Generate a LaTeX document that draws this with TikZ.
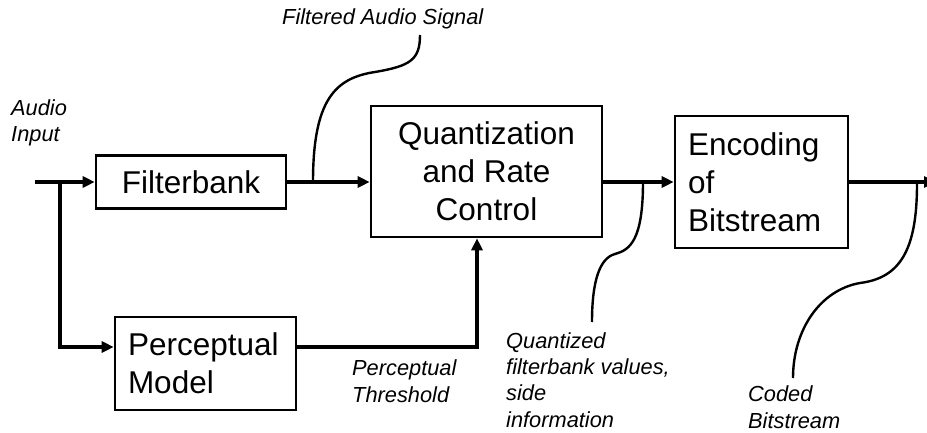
\documentclass[tikz,border=0pt]{standalone}
\usepackage{fontspec}
\setmainfont{Liberation Sans}
\usetikzlibrary{arrows.meta}
\begin{document}
\begin{tikzpicture}[x=1pt,y=-1pt,
  box/.style={draw, line width=2.6pt, inner sep=0pt, font=\fontsize{31.5}{38}\selectfont},
  lbl/.style={font=\fontsize{21.8}{26.3}\selectfont\itshape, align=left, inner sep=0pt, anchor=base west},
  flow/.style={line width=3.6pt, -{Triangle[length=12pt,width=11pt]}},
  lead/.style={line width=2.4pt}]
\useasboundingbox (0,0) rectangle (927,433);
% blocks
\node[box, minimum width=190pt, minimum height=53pt] (fb) at (191,182) {Filterbank};
\node[box, minimum width=231pt, minimum height=131pt, align=center] (qr) at (486.5,171.5) {Quantization\\and Rate\\Control};
\node[box, minimum width=173pt, minimum height=132pt, text width=147pt, align=left] (enc) at (761.5,182) {Encoding\\of\\Bitstream};
\node[box, minimum width=181pt, minimum height=93pt, text width=155pt, align=left] (pm) at (205.5,363.5) {Perceptual\\Model};
% labels (anchor at baseline of last line)
\node[lbl] (ai) at (11,142) {Audio\\Input};
\node[lbl] (fas) at (282,25) {Filtered Audio Signal};
\node[lbl] (pth) at (352,402) {Perceptual\\Threshold};
\node[lbl] (qfv) at (506,427) {Quantized\\filterbank values,\\side\\information};
\node[lbl] (cb) at (748,428) {Coded\\Bitstream};
% coordinates
\coordinate (in) at (35,182);
\coordinate (br) at (60,182);
\coordinate (pin) at (60,347);
\coordinate (pt) at (477,347);
\coordinate (out) at (936,182);
\coordinate (fa0) at (313,182);
\coordinate (fa1) at (420,35);
\coordinate (qf0) at (643,182);
\coordinate (qf1) at (592,322);
\coordinate (cb0) at (917,184);
\coordinate (cb1) at (793,378);
% connectors
\draw[flow] (in) -- (fb.west);
\draw[flow] (br) -- (pin) -- (pm.west |- pin);
\draw[flow] (pm.east |- pt) -- (pt) -- (qr.south -| pt);
\draw[flow] (fb.east) -- (qr.west |- fb.east);
\draw[flow] (qr.east |- enc.west) -- (enc.west);
\draw[flow] (enc.east) -- (out);
% leaders
\draw[lead] (fa0) .. controls (313,100) and (335,78) .. (375,72) .. controls (410,66) and (420,60) .. (fa1);
\draw[lead] (qf0) .. controls (643,240) and (630,250) .. (615,254) .. controls (600,258) and (592,280) .. (qf1);
\draw[lead] (cb0) .. controls (917,250) and (900,278) .. (860,283) .. controls (820,290) and (793,330) .. (cb1);
\end{tikzpicture}
\end{document}
